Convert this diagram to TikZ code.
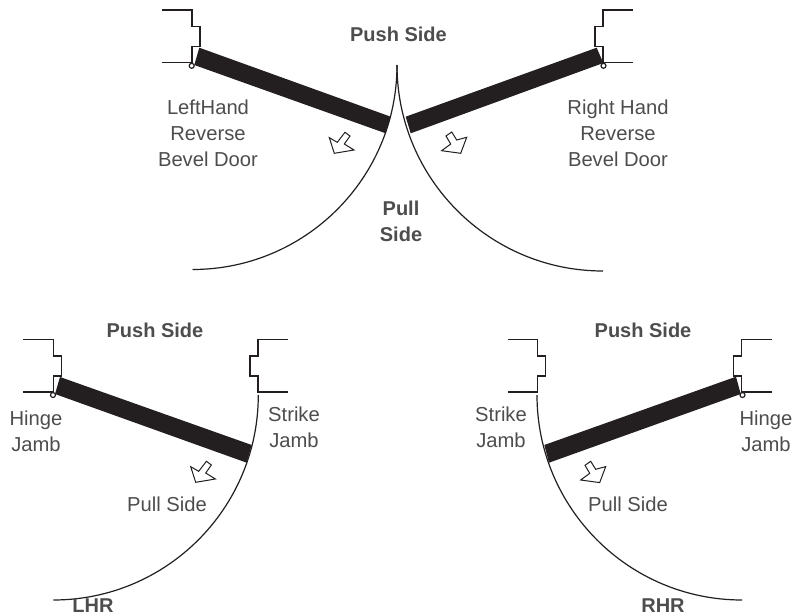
\documentclass[tikz,border=0pt]{standalone}
\usepackage{fontspec}
\setmainfont{Liberation Sans}
\definecolor{lbl}{HTML}{4D4D4D}
\definecolor{ink}{HTML}{231F20}
\tikzset{
  frameline/.style={draw=ink,line width=1.4pt,line join=miter},
  swing/.style={draw=ink,line width=1.2pt},
  leaf/.style={fill=ink,draw=none},
  hingepin/.style={draw=ink,line width=1.2pt,fill=white,circle,inner sep=0pt,minimum size=5pt},
  pointer/.style={draw=ink,line width=1pt,fill=white,line join=miter},
  lab/.style={text=lbl,font=\fontsize{20.2}{26}\selectfont,align=center,inner sep=0pt},
  blab/.style={lab,font=\fontsize{20}{26}\selectfont\bfseries}
}
\newcommand{\arrL}[2]{\draw[pointer,shift={(#1,#2)}] (15.7,-5.4) -- (20.7,-1.7) -- (15,6.3) -- (24.7,12.3) -- (5,15.6) -- (0,0) -- (8,4.6) -- cycle;}
\newcommand{\arrR}[2]{\draw[pointer,shift={(#1,#2)}] (4.3,-14.7) -- (10,-18.7) -- (15,-10.7) -- (25,-13.4) -- (19,2.6) -- (0,0) -- (9,-6.7) -- cycle;}
\newcommand{\jambL}[2]{\draw[frameline,shift={(#1,#2)}] (0,0) -- (30,0) -- (30,16.5) -- (38,16.5) -- (38,36.5) -- (30,36.5) -- (30,52.7) -- (0,52.7);}
\newcommand{\jambR}[2]{\draw[frameline,shift={(#1,#2)}] (0,0) -- (-30,0) -- (-30,16.5) -- (-38,16.5) -- (-38,36.5) -- (-30,36.5) -- (-30,52.7) -- (0,52.7);}
\begin{document}
\begin{tikzpicture}[x=1pt,y=-1pt]
\useasboundingbox (0,0) rectangle (793,616);
% top: swings
\draw[swing] (397,65) arc[start angle=0,end angle=90,radius=204.5];
\draw[swing] (397,65) arc[start angle=180,end angle=90,radius=206];
% top: jambs
\jambL{162}{10}
\jambR{633}{10}
% top: leaves
\fill[leaf] (199.3,47.7) -- (390.7,116.7) -- (385.7,133.3) -- (194.3,65) -- cycle;
\fill[leaf] (596.7,47.7) -- (603.3,63) -- (410.7,133.3) -- (405.7,116.7) -- cycle;
\node[hingepin] (hingeTL) at (191.7,65.8) {};
\node[hingepin] (hingeTR) at (603.5,65.8) {};
\arrL{329.3}{137.7}
\arrR{441.7}{150.7}
% top: labels
\node[blab] (pushT) at (398.5,34) {Push Side};
\node[lab] (leftT) at (208,133) {LeftHand\\Reverse\\Bevel Door};
\node[lab] (rightT) at (618,133) {Right Hand\\Reverse\\Bevel Door};
\node[blab] (pullT) at (401,221) {Pull\\Side};
% bottom left
\draw[swing] (258.3,395) arc[start angle=0,end angle=90,radius=205];
\jambL{23.3}{339.3}
\jambR{288}{339.3}
\fill[leaf] (60,377) -- (251.7,445) -- (246.7,462.7) -- (55,394) -- cycle;
\node[hingepin] (hingeBL) at (53,395) {};
\arrL{190.7}{466.7}
\node[blab] (pushL) at (155,330) {Push Side};
\node[lab] (hingeL) at (36,431) {Hinge\\Jamb};
\node[lab] (strikeL) at (294,427) {Strike\\Jamb};
\node[lab] (pullL) at (167,504.5) {Pull Side};
\node[blab,anchor=base] (lhr) at (93,612) {LHR};
% bottom right
\draw[swing] (537,395) arc[start angle=180,end angle=90,radius=205];
\jambL{507.7}{339.3}
\jambR{771.7}{339.3}
\fill[leaf] (736,376.7) -- (740.7,394) -- (549,462.7) -- (544.3,445) -- cycle;
\node[hingepin] (hingeBR) at (742.5,395) {};
\arrR{580.7}{480}
\node[blab] (pushR) at (643,330) {Push Side};
\node[lab] (hingeR) at (766,431) {Hinge\\Jamb};
\node[lab] (strikeR) at (501,427) {Strike\\Jamb};
\node[lab] (pullR) at (628,504.5) {Pull Side};
\node[blab,anchor=base] (rhr) at (663,612) {RHR};
\end{tikzpicture}
\end{document}
